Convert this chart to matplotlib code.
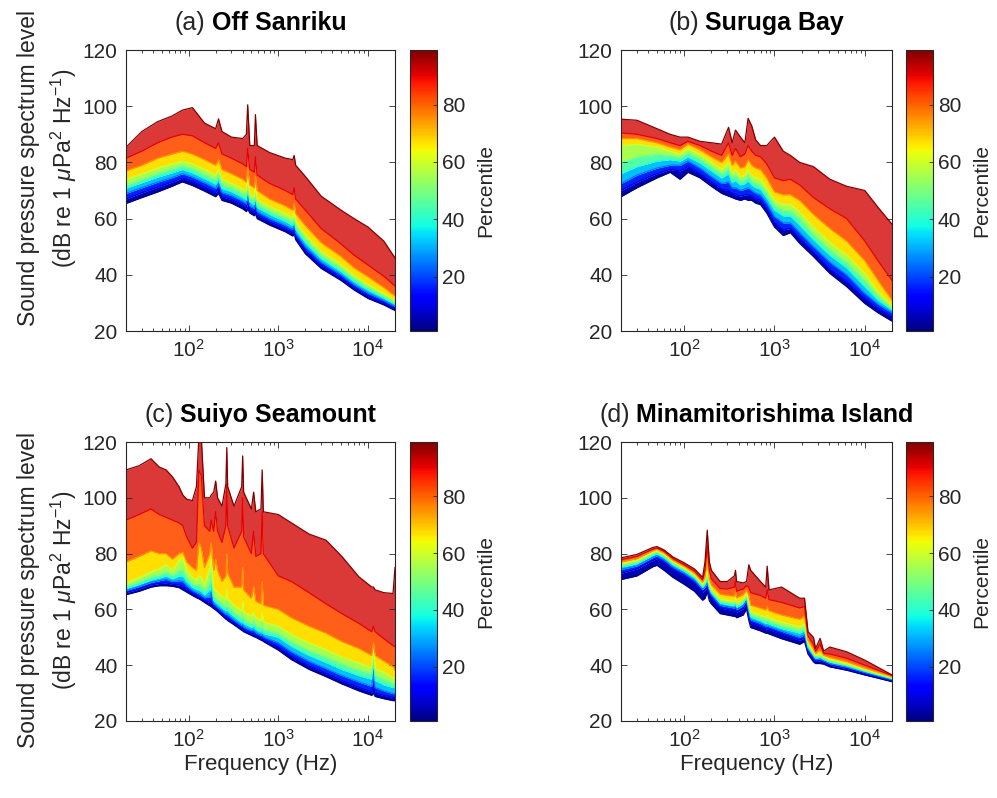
import numpy as np
import matplotlib.pyplot as plt
from matplotlib import cm
from matplotlib.colors import Normalize
from matplotlib.ticker import LogLocator, NullFormatter

plt.rcParams['font.family'] = ['Liberation Sans', 'DejaVu Sans']
plt.rcParams['mathtext.fontset'] = 'custom'
plt.rcParams['mathtext.rm'] = 'Liberation Sans'
plt.rcParams['mathtext.it'] = 'Liberation Sans:italic'
plt.rcParams['mathtext.bf'] = 'Liberation Sans:bold'

# percentiles (columns of the level tables)
pct = [1, 10, 25, 40, 50, 60, 75, 90, 99]

# (a) Off Sanriku
freq_a = [20, 30, 45, 65, 85, 110, 150, 200, 215, 235, 300, 400, 440, 455, 480,
          540, 555, 580, 800, 1200, 1450, 1500, 1560, 2000, 3000, 5000, 7000,
          10000, 15000, 20000]
level_a = [
    [65.4, 67.0, 69.0, 70.8, 72.0, 74.0, 77.0, 81.5, 85.4],
    [67.5, 69.2, 71.0, 72.8, 74.0, 76.0, 79.0, 84.0, 91.0],
    [69.5, 71.2, 73.0, 74.8, 76.2, 78.0, 81.5, 87.0, 94.5],
    [71.5, 73.0, 74.6, 76.3, 77.8, 79.5, 83.0, 89.0, 96.5],
    [73.1, 74.5, 76.0, 77.5, 79.0, 80.5, 84.0, 90.0, 98.6],
    [71.8, 73.2, 74.8, 76.3, 77.8, 79.5, 83.0, 89.5, 99.5],
    [69.8, 71.2, 72.8, 74.3, 75.8, 77.5, 81.0, 87.0, 94.0],
    [67.8, 69.2, 70.8, 72.3, 73.8, 75.5, 79.0, 85.0, 92.0],
    [69.0, 70.8, 72.5, 74.2, 75.8, 77.5, 81.0, 87.0, 95.5],
    [66.5, 67.8, 69.3, 70.8, 72.3, 74.0, 77.5, 83.0, 91.0],
    [65.5, 66.8, 68.2, 69.6, 71.0, 72.6, 76.0, 81.5, 89.0],
    [63.5, 64.8, 66.2, 67.6, 69.0, 70.6, 74.0, 79.5, 88.5],
    [62.5, 63.8, 65.2, 66.6, 68.0, 69.6, 73.0, 78.5, 90.0],
    [63.5, 66.0, 68.5, 70.5, 72.0, 74.0, 78.0, 85.0, 100.5],
    [62.0, 63.2, 64.5, 66.0, 67.3, 68.8, 72.0, 77.5, 86.0],
    [61.0, 62.2, 63.5, 65.0, 66.3, 67.8, 71.0, 76.5, 86.0],
    [62.0, 64.0, 66.0, 68.0, 69.5, 71.5, 75.0, 82.0, 97.0],
    [60.0, 61.2, 62.5, 64.0, 65.3, 66.8, 70.0, 75.5, 86.0],
    [57.7, 58.8, 60.0, 61.5, 62.8, 64.3, 67.0, 72.5, 83.5],
    [55.3, 56.3, 57.6, 59.0, 60.3, 61.8, 64.5, 70.0, 81.5],
    [53.8, 54.8, 56.1, 57.5, 58.8, 60.3, 63.0, 68.5, 81.0],
    [55.0, 56.5, 58.0, 59.5, 61.0, 62.5, 65.5, 71.0, 82.5],
    [52.5, 53.5, 54.8, 56.2, 57.5, 59.0, 61.8, 67.0, 79.0],
    [47.5, 48.6, 50.0, 51.5, 52.8, 54.3, 57.5, 63.0, 75.0],
    [42.3, 43.3, 44.5, 45.8, 47.0, 48.5, 51.5, 56.5, 68.0],
    [38.0, 38.9, 40.0, 41.2, 42.3, 43.6, 46.5, 51.0, 63.0],
    [34.6, 35.5, 36.5, 37.6, 38.6, 39.8, 42.5, 47.0, 60.0],
    [31.6, 32.5, 33.5, 34.6, 35.5, 36.5, 39.3, 43.5, 57.0],
    [29.3, 30.0, 30.9, 31.8, 32.5, 33.4, 35.5, 39.5, 52.0],
    [27.3, 28.0, 28.8, 29.5, 30.0, 31.0, 32.5, 36.0, 46.0],
]

# (b) Suruga Bay
freq_b = [20, 30, 50, 70, 90, 110, 150, 200, 260, 310, 340, 370, 420, 470, 510,
          560, 620, 700, 820, 1000, 1250, 1500, 1900, 2700, 4100, 6300, 10000,
          14000, 20000]
level_b = [
    [67.8, 70.0, 72.5, 76.0, 80.0, 86.0, 88.5, 90.5, 95.4],
    [71.0, 73.0, 75.5, 78.5, 82.0, 86.5, 88.5, 90.0, 95.0],
    [74.5, 76.0, 78.0, 80.5, 83.0, 85.5, 87.0, 88.5, 92.0],
    [76.5, 77.5, 79.0, 81.0, 82.5, 84.0, 85.5, 87.0, 90.0],
    [74.0, 77.0, 79.0, 80.5, 81.8, 83.0, 84.5, 86.0, 89.0],
    [76.5, 78.5, 80.5, 82.0, 83.5, 85.0, 86.5, 87.5, 89.0],
    [74.5, 76.0, 78.0, 79.8, 81.3, 82.8, 84.5, 86.0, 87.5],
    [71.5, 73.0, 75.0, 77.0, 78.5, 80.0, 82.0, 84.0, 87.0],
    [69.0, 70.5, 72.5, 74.5, 76.0, 77.5, 80.0, 82.5, 86.5],
    [68.0, 70.0, 73.0, 76.0, 78.0, 80.0, 83.0, 87.0, 92.5],
    [67.5, 69.0, 71.0, 73.0, 74.5, 76.0, 79.0, 82.5, 87.0],
    [67.0, 68.5, 71.0, 73.5, 75.5, 77.5, 80.5, 85.0, 91.5],
    [66.5, 68.0, 70.0, 72.0, 73.5, 75.0, 78.0, 82.0, 89.0],
    [67.0, 68.5, 70.5, 72.5, 74.0, 75.5, 78.5, 83.0, 87.0],
    [66.5, 68.5, 71.0, 73.5, 75.5, 77.5, 81.0, 86.0, 95.7],
    [66.5, 68.0, 70.0, 72.0, 73.5, 75.5, 79.0, 84.0, 93.0],
    [65.5, 67.0, 69.0, 71.0, 72.5, 74.5, 78.0, 82.5, 88.0],
    [65.0, 66.5, 68.5, 70.5, 72.0, 74.0, 77.5, 82.0, 86.0],
    [62.0, 63.5, 65.5, 67.5, 69.0, 71.0, 74.5, 79.5, 86.0],
    [57.0, 58.5, 60.7, 63.0, 64.8, 66.6, 69.5, 74.5, 89.0],
    [54.0, 56.0, 58.5, 61.0, 63.0, 65.0, 68.5, 73.5, 84.0],
    [55.0, 56.5, 58.5, 61.0, 62.8, 65.0, 68.5, 74.0, 82.5],
    [51.2, 53.0, 55.0, 57.7, 60.0, 62.5, 66.5, 72.0, 80.0],
    [46.5, 48.0, 50.0, 52.5, 54.5, 57.0, 61.5, 67.5, 78.5],
    [40.5, 42.0, 44.5, 47.0, 49.0, 51.5, 56.5, 63.5, 74.0],
    [35.8, 37.5, 40.0, 42.5, 44.5, 47.0, 52.0, 60.0, 71.5],
    [29.8, 31.5, 33.4, 35.8, 38.0, 40.5, 45.0, 52.0, 70.0],
    [26.5, 28.0, 29.5, 31.0, 32.5, 34.0, 38.0, 45.0, 64.0],
    [23.5, 25.0, 26.5, 27.5, 28.0, 29.0, 31.0, 38.0, 58.0],
]

# (c) Suiyo Seamount
freq_c = [20, 28, 38, 47, 56, 66, 78, 86, 95, 110, 122, 130, 138, 150, 172, 178,
          190, 200, 210, 235, 260, 266, 272, 320, 390, 400, 410, 500, 530, 560,
          640, 660, 680, 1000, 1400, 2200, 3400, 5100, 7900, 11000, 11500, 12000,
          15000, 19000, 20000]
level_c = [
    [65.3, 66.0, 66.8, 67.5, 68.3, 69.5, 77.0, 92.0, 110.0],
    [66.5, 67.3, 68.2, 69.0, 70.0, 71.5, 79.0, 94.0, 111.5],
    [68.0, 68.8, 69.7, 70.6, 71.8, 73.5, 81.0, 96.0, 114.0],
    [68.5, 69.3, 70.3, 71.3, 72.5, 74.5, 80.0, 94.0, 111.0],
    [68.5, 69.5, 70.8, 72.0, 73.5, 76.0, 80.0, 93.0, 110.0],
    [68.3, 69.0, 70.0, 71.0, 72.3, 74.0, 78.0, 92.0, 107.5],
    [67.8, 68.8, 70.3, 72.0, 74.0, 77.5, 80.0, 91.0, 104.0],
    [67.0, 68.3, 70.0, 72.0, 74.5, 78.5, 80.5, 90.0, 101.0],
    [66.2, 67.2, 68.5, 70.0, 71.5, 74.0, 77.0, 86.0, 99.5],
    [65.0, 65.8, 66.8, 68.0, 69.5, 71.5, 75.0, 82.0, 99.0],
    [64.2, 65.0, 66.0, 67.2, 68.6, 70.5, 74.0, 84.0, 104.0],
    [63.8, 64.6, 65.6, 67.0, 69.0, 72.0, 84.0, 110.0, 122.0],
    [63.3, 64.1, 65.2, 66.5, 68.5, 71.5, 82.0, 108.0, 122.0],
    [62.5, 63.2, 64.2, 65.3, 66.8, 69.0, 75.0, 90.0, 100.0],
    [61.3, 62.5, 64.5, 67.0, 70.0, 75.0, 80.0, 88.0, 100.0],
    [61.0, 63.0, 66.0, 69.5, 73.0, 78.0, 84.0, 92.0, 101.0],
    [60.3, 61.0, 62.0, 63.2, 64.7, 67.0, 74.0, 88.0, 102.0],
    [59.8, 60.5, 61.5, 62.7, 64.3, 67.0, 78.0, 95.0, 106.0],
    [59.2, 59.9, 60.8, 62.0, 63.5, 66.0, 74.0, 88.0, 100.0],
    [57.8, 58.5, 59.5, 60.7, 62.2, 64.5, 70.0, 84.0, 97.0],
    [56.5, 57.2, 58.2, 59.5, 61.0, 63.5, 72.0, 90.0, 105.0],
    [56.3, 57.2, 58.5, 60.5, 63.0, 67.0, 80.0, 105.0, 118.0],
    [56.0, 56.8, 58.0, 59.5, 61.3, 64.0, 73.0, 90.0, 104.0],
    [54.5, 55.2, 56.2, 57.5, 59.0, 61.5, 68.0, 82.0, 97.0],
    [52.5, 53.2, 54.2, 55.4, 57.0, 59.5, 68.0, 88.0, 104.0],
    [52.3, 53.2, 54.5, 56.5, 59.0, 63.0, 75.0, 100.0, 115.0],
    [52.0, 52.7, 53.7, 55.0, 56.6, 59.0, 67.0, 86.0, 102.0],
    [50.7, 51.4, 52.4, 53.6, 55.0, 57.5, 64.0, 80.0, 96.0],
    [50.3, 51.2, 52.5, 54.0, 56.0, 59.0, 68.0, 88.0, 102.0],
    [50.0, 50.7, 51.7, 52.9, 54.4, 57.0, 63.0, 79.0, 95.0],
    [49.0, 49.7, 50.7, 51.9, 53.4, 56.0, 62.0, 80.0, 96.0],
    [48.8, 49.7, 51.0, 53.0, 55.5, 59.0, 70.0, 95.0, 110.0],
    [48.5, 49.2, 50.2, 51.4, 53.0, 55.5, 61.5, 80.0, 95.0],
    [45.4, 46.5, 48.0, 50.0, 51.5, 54.0, 60.0, 72.0, 94.0],
    [42.0, 43.2, 44.8, 46.8, 48.5, 51.0, 57.0, 70.0, 91.0],
    [38.5, 39.7, 41.4, 43.5, 45.3, 48.0, 54.0, 66.0, 87.0],
    [35.9, 37.0, 38.8, 41.0, 43.0, 45.5, 51.5, 62.0, 84.8],
    [33.3, 34.5, 36.3, 38.5, 40.5, 43.0, 48.5, 58.5, 79.0],
    [30.8, 32.0, 34.0, 36.3, 38.3, 40.8, 46.0, 55.0, 71.7],
    [29.2, 30.4, 32.4, 35.0, 37.0, 39.0, 43.5, 52.0, 68.0],
    [30.0, 33.0, 38.0, 43.0, 45.0, 46.5, 48.0, 54.0, 68.0],
    [28.8, 30.0, 32.0, 34.5, 36.5, 38.8, 43.5, 52.0, 67.0],
    [28.0, 29.2, 30.8, 33.0, 35.0, 37.5, 41.5, 49.5, 66.0],
    [27.3, 28.5, 29.8, 32.0, 33.5, 35.5, 39.5, 47.0, 65.7],
    [27.3, 28.5, 29.8, 32.0, 33.5, 35.5, 38.2, 46.6, 75.0],
]

# (d) Minamitorishima Island
freq_d = [20, 30, 45, 50, 60, 75, 100, 130, 160, 170, 180, 190, 200, 250, 300,
          360, 370, 380, 450, 490, 520, 545, 700, 800, 830, 870, 1200, 1900,
          2150, 2350, 2700, 2850, 3200, 3500, 4100, 6300, 10000, 20000]
level_d = [
    [70.7, 73.0, 74.3, 75.2, 75.8, 76.3, 77.0, 77.8, 78.5],
    [72.0, 74.5, 75.6, 76.4, 77.0, 77.5, 78.2, 79.0, 79.7],
    [75.3, 77.6, 78.6, 79.4, 79.9, 80.4, 81.0, 81.6, 82.2],
    [75.8, 78.2, 79.2, 80.0, 80.5, 81.0, 81.5, 82.0, 82.5],
    [74.0, 76.8, 77.8, 78.6, 79.1, 79.6, 80.2, 80.8, 81.3],
    [71.5, 74.3, 75.2, 76.0, 76.5, 77.0, 77.6, 78.2, 78.8],
    [69.0, 72.0, 73.0, 73.8, 74.3, 74.8, 75.4, 76.0, 76.7],
    [66.5, 69.5, 70.5, 71.3, 71.8, 72.3, 73.0, 73.7, 74.5],
    [63.3, 66.2, 67.2, 68.0, 68.5, 69.0, 69.8, 70.6, 71.5],
    [64.0, 67.0, 68.0, 68.8, 69.4, 70.0, 71.5, 74.0, 77.0],
    [66.3, 68.0, 69.5, 71.0, 72.5, 74.0, 78.0, 83.0, 88.4],
    [63.0, 65.5, 66.7, 67.6, 68.3, 69.2, 71.0, 74.0, 77.0],
    [62.0, 64.2, 65.2, 66.0, 66.6, 67.3, 68.8, 71.0, 74.0],
    [58.5, 60.5, 61.5, 62.3, 63.0, 63.8, 65.5, 67.5, 70.0],
    [58.0, 60.0, 61.0, 61.8, 62.5, 63.3, 65.0, 67.3, 70.0],
    [57.5, 59.5, 60.5, 61.3, 62.0, 62.8, 64.8, 68.0, 72.0],
    [57.5, 60.0, 61.5, 62.5, 63.3, 64.3, 66.5, 70.0, 74.0],
    [57.0, 59.0, 60.0, 60.8, 61.5, 62.3, 64.2, 66.5, 70.0],
    [58.0, 60.3, 61.3, 62.1, 62.8, 63.6, 65.3, 67.3, 69.5],
    [60.2, 62.3, 63.3, 64.2, 64.9, 65.6, 67.0, 68.5, 70.0],
    [56.0, 57.8, 59.0, 60.2, 61.2, 62.5, 65.0, 68.0, 76.0],
    [53.5, 55.3, 56.3, 57.3, 58.2, 59.2, 61.5, 66.0, 74.0],
    [52.3, 54.0, 55.0, 56.0, 57.0, 58.0, 60.5, 65.0, 70.0],
    [51.5, 53.0, 54.0, 55.0, 56.0, 57.2, 59.8, 64.0, 68.0],
    [51.5, 53.0, 54.0, 55.3, 56.5, 58.0, 61.0, 67.0, 75.5],
    [51.2, 52.8, 53.8, 54.8, 55.8, 57.0, 59.5, 63.5, 67.0],
    [49.5, 51.2, 52.2, 53.2, 54.2, 55.5, 58.0, 62.5, 68.0],
    [47.5, 49.0, 50.0, 51.5, 52.5, 53.8, 56.5, 60.5, 64.0],
    [48.5, 49.8, 51.0, 52.5, 53.5, 54.8, 57.5, 61.0, 64.0],
    [44.0, 45.0, 45.8, 46.5, 47.2, 48.0, 49.0, 50.5, 52.0],
    [41.2, 42.3, 43.0, 43.6, 44.0, 44.6, 45.8, 47.5, 50.0],
    [40.6, 41.4, 42.0, 42.6, 43.0, 43.5, 44.2, 45.0, 46.0],
    [40.6, 41.5, 42.2, 42.8, 43.3, 44.0, 45.5, 47.5, 49.6],
    [40.4, 41.1, 41.6, 42.1, 42.5, 43.0, 43.6, 44.2, 45.0],
    [39.4, 40.0, 40.6, 41.1, 41.5, 42.0, 42.8, 44.0, 46.5],
    [38.2, 38.8, 39.3, 39.8, 40.1, 40.5, 41.3, 42.5, 44.8],
    [36.5, 37.0, 37.4, 37.8, 38.1, 38.4, 39.0, 40.0, 41.8],
    [34.1, 34.5, 34.8, 35.1, 35.3, 35.5, 35.9, 36.3, 36.5],
]

tags = ['(a)', '(b)', '(c)', '(d)']
sites = ['Off Sanriku', 'Suruga Bay', 'Suiyo Seamount', 'Minamitorishima Island']
freqs = [freq_a, freq_b, freq_c, freq_d]
levels = [level_a, level_b, level_c, level_d]

cmap = cm.jet
norm = Normalize(vmin=1, vmax=99)
dark = '#262626'

fig = plt.figure(figsize=(9.97, 7.98), dpi=100)

# [left, bottom, width, height] in figure fraction
ax_pos = [[0.1264, 0.5852, 0.2698, 0.3521],
          [0.6229, 0.5852, 0.2718, 0.3521],
          [0.1264, 0.0965, 0.2698, 0.3496],
          [0.6229, 0.0965, 0.2718, 0.3496]]
cb_left = [0.4112, 0.9087, 0.4112, 0.9087]

# colour level and opacity of each band between neighbouring percentiles;
# the sparse upper percentiles show white gaps between lines
band_level = [5, 17, 32, 45, 55, 67, 82, 92]
band_alpha = [1, 1, 1, 1, 1, 1, 0.9, 0.78]

axes = []
for i in range(4):
    ax = fig.add_axes(ax_pos[i])
    axes.append(ax)
    f = np.array(freqs[i])
    L = np.array(levels[i]).T
    for k in range(len(pct) - 1):
        ax.fill_between(f, L[k], L[k + 1], color=cmap(norm(band_level[k])),
                        alpha=band_alpha[k], lw=0)
    for k, p in enumerate(pct):
        ax.plot(f, L[k], color=cmap(norm(p)), lw=0.9)

    ax.set_xscale('log')
    ax.set_xlim(20, 20000)
    ax.set_ylim(20, 120)
    ax.set_yticks([20, 40, 60, 80, 100, 120])
    ax.set_xticks([100, 1000, 10000])
    ax.xaxis.set_minor_locator(LogLocator(base=10, subs=np.arange(2, 10)))
    ax.xaxis.set_minor_formatter(NullFormatter())
    ax.tick_params(which='both', direction='in', top=True, right=True,
                   colors=dark, labelsize=15, width=0.6)
    ax.tick_params(which='major', length=4, pad=6)
    ax.tick_params(which='minor', length=2)
    for s in ax.spines.values():
        s.set_color(dark)
        s.set_linewidth(0.8)
    if i >= 2:
        ax.set_xlabel('Frequency (Hz)', fontsize=16, color=dark, labelpad=2)

    pos = ax_pos[i]
    cax = fig.add_axes([cb_left[i], pos[1], 0.0271, pos[3]])
    sm = cm.ScalarMappable(norm=norm, cmap=cmap)
    cb = fig.colorbar(sm, cax=cax, ticks=[20, 40, 60, 80])
    cb.ax.tick_params(direction='in', length=3, labelsize=15, colors=dark, width=0.6)
    cb.outline.set_edgecolor(dark)
    cb.outline.set_linewidth(0.8)
    cb.set_label('Percentile', fontsize=15, color=dark, labelpad=8)

# y labels, two lines per row (centre heights in pixels from the top)
label_yc = [168, 590]
for yc_px in label_yc:
    yc = 1 - yc_px / 798
    fig.text(29 / 997, yc, 'Sound pressure spectrum level', rotation=90,
             ha='center', va='center', fontsize=16.5, color=dark)
    fig.text(64 / 997, yc, r'(dB re 1 $\mu$Pa$^2$ Hz$^{-1}$)', rotation=90,
             ha='center', va='center', fontsize=16.5, color=dark)

# titles: normal tag followed by bold site name, centred on the axes
fig.canvas.draw()
r = fig.canvas.get_renderer()
W = fig.bbox.width
for i, ax in enumerate(axes):
    pos = ax_pos[i]
    ty = pos[1] + pos[3] + 0.034
    t1 = fig.text(0, ty, tags[i], fontsize=18, va='center', color=dark)
    t2 = fig.text(0, ty, sites[i], fontsize=18, fontweight='bold', va='center',
                  color='black')
    w1 = t1.get_window_extent(r).width
    w2 = t2.get_window_extent(r).width
    gap = 6
    cx = (pos[0] + pos[2] / 2) * W
    x0 = cx - (w1 + gap + w2) / 2
    t1.set_x(x0 / W)
    t2.set_x((x0 + w1 + gap) / W)

fig.savefig('out.png', dpi=100)
